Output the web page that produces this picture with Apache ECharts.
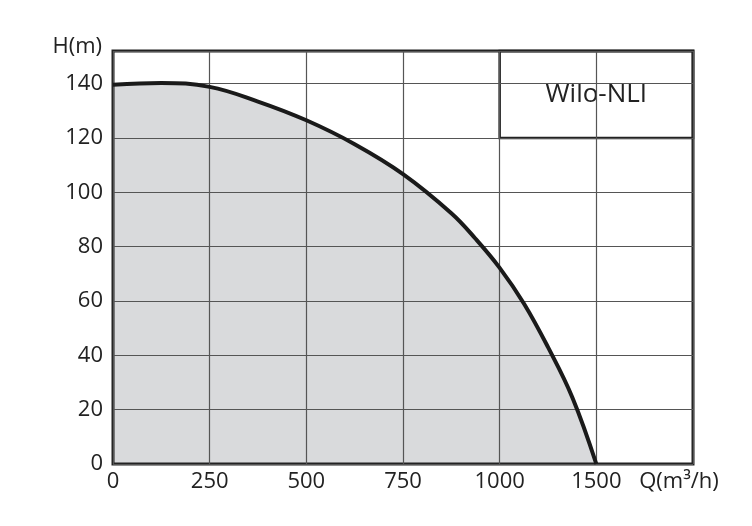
<!DOCTYPE html>
<html>
<head>
<meta charset="utf-8">
<script src="https://cdn.jsdelivr.net/npm/echarts@6/dist/echarts.min.js"></script>
<style>
  html, body { margin: 0; padding: 0; background: #fff; }
  #chart { width: 752px; height: 526px; }
</style>
</head>
<body>
<div id="chart"></div>
<script>
// data (flow in axis positions, head in m)
const flow = [0, 125, 250, 375, 500, 625, 750, 875, 937, 1000, 1063, 1125, 1188, 1250]
const head = [139.6, 140.2, 138.8, 133.4, 126.5, 117.7, 106.7, 92.3, 83, 72.2, 59, 43, 24.5, 0]
const xTickLabels = ['0', '250', '500', '750', '1000', '1500', 'Q(m³/h)']
const yTickLabels = ['0', '20', '40', '60', '80', '100', '120', '140']
const pumpName = 'Wilo-NLI'

const curve = flow.map((q, i) => [q, head[i]])
const font = '"Open Sans", "Noto Sans", sans-serif'

function renderChart() {
  const chart = echarts.init(document.getElementById('chart'))
  const option = {
    animation: false,
    grid: {
      left: 113, right: 59, top: 51, bottom: 62,
      show: true, borderColor: '#222', borderWidth: 3, z: 2
    },
    xAxis: {
      type: 'value', min: 0, max: 1500, interval: 250, z: 2,
      axisLine: { show: false }, axisTick: { show: false },
      splitLine: { lineStyle: { color: '#555', width: 1.2 } },
      axisLabel: {
        margin: 7, color: '#222', fontFamily: font, fontSize: 22,
        showMaxLabel: true, showMinLabel: true,
        formatter: v => {
          const i = Math.round(v / 250)
          return i === 6 ? '{q|' + xTickLabels[i] + '}' : xTickLabels[i]
        },
        rich: { q: { fontFamily: font, fontSize: 22, color: '#222', padding: [0, 28, 0, 0] } }
      }
    },
    yAxis: {
      type: 'value', min: 0, max: 152, interval: 20, z: 2,
      name: 'H(m)', nameLocation: 'end', nameGap: 4,
      nameTextStyle: {
        fontFamily: font, fontSize: 22, color: '#222',
        align: 'right', verticalAlign: 'middle', padding: [0, 11, 0, 0]
      },
      axisLine: { show: false }, axisTick: { show: false },
      splitLine: { lineStyle: { color: '#555', width: 1.2 } },
      axisLabel: {
        margin: 10, color: '#222', fontFamily: font, fontSize: 22,
        formatter: v => (v % 20 === 0 ? yTickLabels[v / 20] : '')
      }
    },
    series: [
      {
        type: 'line', data: curve, smooth: 0.4, z: 1,
        symbol: 'none', lineStyle: { width: 0 },
        areaStyle: { color: '#d9dadc', opacity: 1 }
      },
      {
        type: 'line', data: curve, smooth: 0.4, z: 3,
        symbol: 'none', lineStyle: { color: '#1a1a1a', width: 4 },
        markArea: {
          silent: true,
          itemStyle: { color: '#fff', borderColor: '#222', borderWidth: 2.5 },
          label: {
            show: true, position: 'inside', fontFamily: font, fontSize: 26, color: '#222'
          },
          data: [[{ name: pumpName, coord: [1000, 120] }, { coord: [1500, 152] }]]
        }
      }
    ]
  }
  chart.setOption(option)
}

document.addEventListener('DOMContentLoaded', renderChart)
</script>
</body>
</html>
